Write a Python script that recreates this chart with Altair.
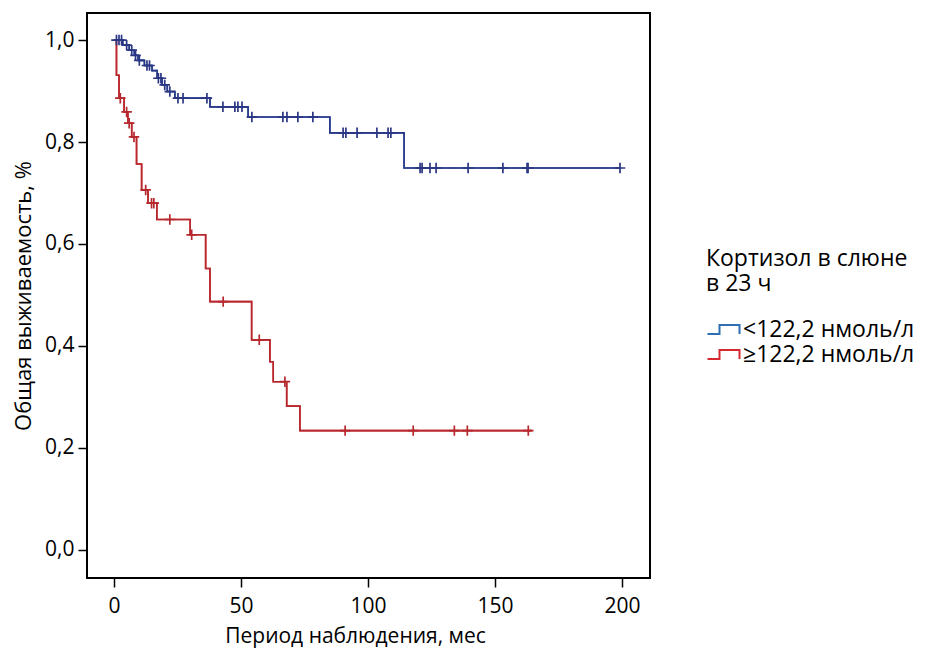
import altair as alt
import pandas as pd

# Group labels
groups = ["<122,2 нмоль/л", "≥122,2 нмоль/л"]

# Group 1 (<122,2): step times and survival
blue_t = [0, 3.5, 6, 8, 9.5, 12, 15, 17, 19, 21, 24, 37.8, 52.8, 85, 114.2]
blue_s = [1.0, 0.99, 0.98, 0.97, 0.96, 0.95, 0.94, 0.925, 0.912, 0.899, 0.886, 0.869, 0.849, 0.818, 0.749]
blue_end = 199.2
blue_cens = [1, 2, 3, 5, 7, 8.5, 10, 13, 14, 17.5, 18.5, 20, 22, 25.2, 27.2, 36.6,
             42.9, 47.6, 48.8, 50.4, 54.3, 66.5, 68.1, 72.4, 78.3, 90.2, 91.3, 95.7,
             103.5, 107.9, 109, 120.5, 121.3, 124.4, 126.8, 139.4, 153.1, 162.6, 163, 199.2]

# Group 2 (>=122,2)
red_t = [0, 1, 2, 4, 5.5, 7, 8.9, 10.9, 13.4, 16.9, 30, 36.1, 37.8, 54.2, 61.4, 62.7, 68, 73.2]
red_s = [1.0, 0.931, 0.886, 0.859, 0.837, 0.81, 0.757, 0.706, 0.68, 0.648, 0.618, 0.552,
         0.487, 0.412, 0.369, 0.33, 0.282, 0.234]
red_end = 164.5
red_cens = [2.5, 5, 6, 7.9, 12.5, 14.8, 15.7, 22, 30.6, 43, 57.2, 67.3, 91, 117.8, 134, 139.1, 163.1]

x_ticks = [0, 50, 100, 150, 200]
y_ticks = [0, 0.2, 0.4, 0.6, 0.8, 1.0]

line_colors = ["#2b3784", "#b5282e"]
legend_colors = ["#2f6eb0", "#d42a2f"]

FONT = "Open Sans"


def surv_at(ts, ss, t):
    v = ss[0]
    for ti, si in zip(ts, ss):
        if ti <= t:
            v = si
    return v


rows = []
cens_rows = []
for g, ts, ss, end, cens in [(groups[0], blue_t, blue_s, blue_end, blue_cens),
                             (groups[1], red_t, red_s, red_end, red_cens)]:
    for i, (t, s) in enumerate(zip(ts, ss)):
        rows.append({"g": g, "t": t, "s": s, "o": i})
    rows.append({"g": g, "t": end, "s": ss[-1], "o": len(ts)})
    for c in cens:
        cens_rows.append({"g": g, "t": c, "s": surv_at(ts, ss, c)})

lines_df = pd.DataFrame(rows)
cens_df = pd.DataFrame(cens_rows)

xscale = alt.Scale(domain=[-10.6, 211], nice=False, zero=False)
yscale = alt.Scale(domain=[-0.055, 1.053], nice=False, zero=False)

xaxis = alt.Axis(values=x_ticks, title="Период наблюдения, мес", grid=False, domain=False,
                 tickSize=9, tickWidth=1.5, tickColor="black", labelFontSize=21,
                 labelFont=FONT, labelColor="black", labelPadding=8,
                 titleFont=FONT, titleFontSize=21, titleFontWeight="normal",
                 titleColor="black", titlePadding=9, titleX=268, titleAlign="center")
yaxis = alt.Axis(values=y_ticks, title="Общая выживаемость, %", grid=False, domain=False,
                 tickSize=9, tickWidth=1.5, tickColor="black", labelFontSize=21,
                 labelFont=FONT, labelColor="black", labelPadding=4,
                 labelExpr="replace(format(datum.value, '.1f'), '.', ',')",
                 titleFont=FONT, titleFontSize=22, titleFontWeight="normal",
                 titleColor="black", titlePadding=9)

step_sym = "M-1,0.45L0.2,0.45L0.2,-0.45L2.2,-0.45L2.2,0.45"

legend = alt.Legend(orient="none", legendX=619, legendY=235,
                    title=["Кортизол в слюне", "в 23 ч"], titleFont=FONT, titleFontSize=23,
                    titleFontWeight="normal", titleColor="black", titleLineHeight=25,
                    titlePadding=22, titleLimit=400, labelLimit=400,
                    labelFont=FONT, labelFontSize=23, labelColor="black",
                    symbolType=step_sym, symbolSize=400, symbolStrokeWidth=2,
                    labelOffset=14, rowPadding=1)

legend_layer = alt.Chart(lines_df).mark_line(interpolate="step-after", strokeWidth=1.6).encode(
    x=alt.X("t:Q", scale=xscale, axis=xaxis),
    y=alt.Y("s:Q", scale=yscale, axis=yaxis),
    color=alt.Color("g:N", scale=alt.Scale(domain=groups, range=legend_colors), legend=legend),
    order="o:Q",
)

line_layer = alt.Chart(lines_df).mark_line(interpolate="step-after", strokeWidth=1.6).encode(
    x=alt.X("t:Q", scale=xscale),
    y=alt.Y("s:Q", scale=yscale),
    color=alt.Color("g:N", scale=alt.Scale(domain=groups, range=line_colors), legend=None),
    order="o:Q",
)

cens_layer = alt.Chart(cens_df).mark_point(shape="M-1,0L1,0M0,-1L0,1", size=110,
                                           filled=False, strokeWidth=1.7, opacity=1).encode(
    x=alt.X("t:Q", scale=xscale),
    y=alt.Y("s:Q", scale=yscale),
    color=alt.Color("g:N", scale=alt.Scale(domain=groups, range=line_colors), legend=None),
)

chart = alt.layer(legend_layer, line_layer, cens_layer).resolve_scale(
    color="independent"
).properties(
    width=563, height=565,
    padding={"left": 79, "top": 5, "right": 270, "bottom": 70},
    autosize=alt.AutoSizeParams(type="none"),
    background="white",
).configure_view(stroke="black", strokeWidth=2)

chart.save("out.html", embed_options={"renderer": "svg", "actions": False})
